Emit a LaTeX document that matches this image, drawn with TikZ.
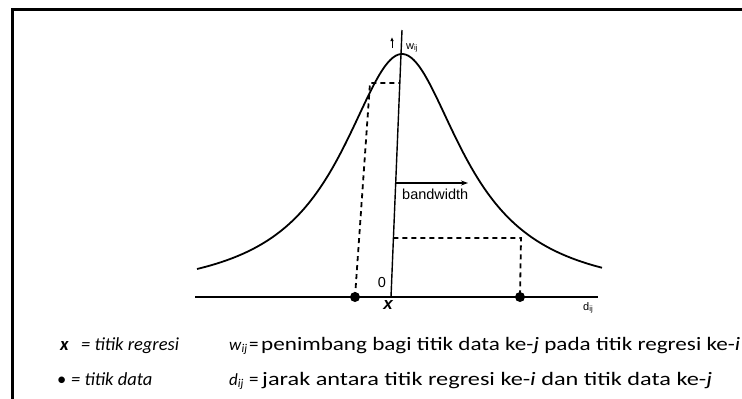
\documentclass[tikz,border=0pt]{standalone}
\usepackage{fontspec}
\setmainfont{Carlito}
\newfontfamily\arialf{Liberation Sans}
\usetikzlibrary{arrows.meta,calc}
\newsavebox\legboxA
\newsavebox\legboxB
\begin{document}
\sbox\legboxA{\fontsize{19}{20}\selectfont penimbang bagi titik data ke-\textit{j} pada titik regresi ke-\textit{i}}%
\sbox\legboxB{\fontsize{19}{20}\selectfont jarak antara titik regresi ke-\textit{i} dan titik data ke-\textit{j}}%
\pgfmathsetmacro{\legsA}{479/\the\wd\legboxA}%
\pgfmathsetmacro{\legsB}{450/\the\wd\legboxB}%
\begin{tikzpicture}[x=1pt,y=-1pt,
  frame/.style={line width=3pt, black},
  curve/.style={line width=1.8pt, line join=round},
  base/.style={line width=2.4pt},
  axisl/.style={line width=1.4pt},
  dashl/.style={line width=1.8pt, dash pattern=on 5pt off 4pt},
  dot/.style={circle, fill=black, inner sep=0pt, minimum size=10pt},
  lbl/.style={font=\arialf\fontsize{14.5}{15}\selectfont, inner sep=0pt},
  small/.style={font=\arialf\fontsize{11}{12}\selectfont, inner sep=0pt},
  leg/.style={font=\fontsize{18.5}{20}\selectfont, inner sep=0pt, anchor=base west},
  legr/.style={font=\fontsize{19}{20}\selectfont, inner sep=0pt, anchor=base west},
  legsym/.style={font=\fontsize{17}{20}\selectfont, inner sep=0pt, anchor=base west},
]
\useasboundingbox (0,0) rectangle (742,399);
% frame
\coordinate (fTL) at (12,9);
\coordinate (fTR) at (746,9);
\coordinate (fBL) at (12,403);
\draw[frame] (fTR) -- (fTL) -- (fBL);
% axis
\coordinate (o) at (391,297);
\coordinate (ytop) at (402,30);
\coordinate (a83) at (399.8,83);
\coordinate (a183) at (395.7,183);
\coordinate (a238) at (393.4,238);
\draw[axisl] (o) -- (ytop);
% curve
\draw[curve] plot[domain=-205:200, samples=160, smooth]
  ({402+\x}, {297-243/(1+(\x/74)*(\x/74))});
% baseline and data points
\coordinate (bl) at (195,297);
\coordinate (br) at (598,297);
\draw[base] (bl) -- (br);
\node[dot] (p1) at (355,297) {};
\node[dot] (p2) at (520,297) {};
% dashed guides
\coordinate (c1) at (370,83);
\coordinate (c2) at (521,238);
\draw[dashl] (p1.center) -- (c1) -- (a83);
\draw[dashl] (a238) -- (c2) -- (p2.center);
% bandwidth
\coordinate (bwend) at (468,183);
\draw[line width=1.4pt, -{Stealth[length=7pt,width=5pt]}] (a183) -- (bwend);
\node[lbl, anchor=base west] (bw) at (402,199) {bandwidth};
% labels
\node[lbl, anchor=base] (zero) at (382,287) {0};
\node[font=\arialf\bfseries\itshape\fontsize{17}{17}\selectfont, inner sep=0pt, anchor=base] (xl) at (388,309) {x};
\node[small, anchor=base west] (dij) at (583,310) {d\textsubscript{ij}};
\node[small, anchor=base west] (wij) at (406,49) {w\textsubscript{ij}};
\coordinate (ua1) at (392,48);
\coordinate (ua2) at (392,37);
\draw[line width=1pt,-{Latex[length=4pt,width=3.5pt]}] (ua1) -- (ua2);
% legend, left column
\node[leg] (lx) at (60,350) {\textbf{\textit{x}}};
\node[leg] (lxt) at (81,350) {\textit{= titik regresi}};
\node[leg] (ld) at (57,385) {\textbullet};
\node[leg] (ldt) at (71,385) {\textit{= titik data}};
% legend, right column
\node[legsym] (lw) at (229,350) {\textit{w}\textsubscript{\textit{ij}}};
\node[legr] (lweq) at (249,350) {=};
\node[legr] (lwt) at (261,350) {\scalebox{\legsA}[1]{\usebox\legboxA}};
\node[legsym] (ldd) at (229,385) {\textit{d}\textsubscript{\textit{ij}}};
\node[legr] (ldeq) at (249,385) {=};
\node[legr] (ldt2) at (262,385) {\scalebox{\legsB}[1]{\usebox\legboxB}};
\end{tikzpicture}
\end{document}
